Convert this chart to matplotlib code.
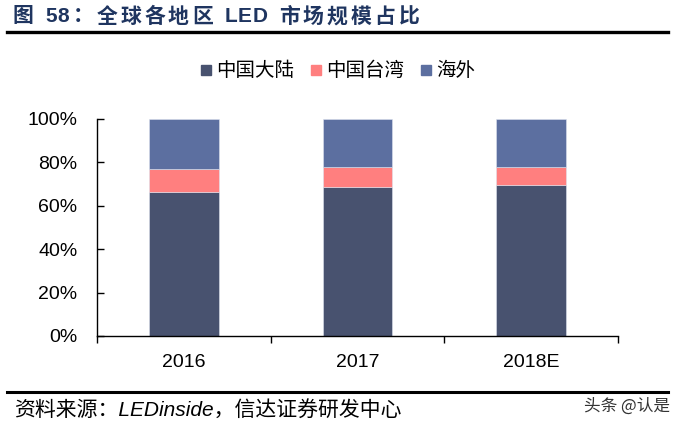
import numpy as np
import matplotlib
matplotlib.use('Agg')
import matplotlib.pyplot as plt
from matplotlib.lines import Line2D

# Data (share of global LED market, %)
years = ['2016', '2017', '2018E']
mainland = [66.5, 68.7, 69.7]
taiwan = [10.3, 9.2, 8.2]
overseas = [23.2, 22.1, 22.1]
series_names = ['中国大陆', '中国台湾', '海外']
colors = ['#48526F', '#FF7F7F', '#5C6FA0']

TITLE = '图 58：全球各地区 LED 市场规模占比'
SOURCE = '资料来源：LEDinside，信达证券研发中心'

plt.rcParams['font.family'] = ['Liberation Sans', 'Noto Sans CJK SC']

W, H = 676, 426
fig = plt.figure(figsize=(W / 100, H / 100), dpi=100)
ax = fig.add_axes([97 / W, 1 - 336 / H, 521 / W, 217 / H])

x = np.arange(len(years))
bottom = np.zeros(len(years))
for vals, name, col in zip([mainland, taiwan, overseas], series_names, colors):
    v = np.array(vals) / 100.0
    ax.bar(x, v, width=0.4, bottom=bottom, color=col, label=name,
           edgecolor='#DDE2EE', linewidth=0.4)
    bottom += v

ax.set_xlim(-0.5, len(years) - 0.5)
ax.set_ylim(0, 1)
yt = np.linspace(0, 1, 6)
ax.set_yticks(yt)
ax.set_yticklabels([f'{int(round(t * 100))}%' for t in yt], fontsize=14)
ax.set_xticks(x)
ax.set_xticklabels(years, fontsize=14)
ax.tick_params(axis='x', length=0, pad=13)
ax.set_xticks(np.arange(len(years) + 1) - 0.5, minor=True)
ax.tick_params(axis='x', which='minor', length=5, direction='out', width=1)
ax.tick_params(axis='y', length=5, direction='in', width=1, pad=14)
for s in ['top', 'right']:
    ax.spines[s].set_visible(False)
for s in ['left', 'bottom']:
    ax.spines[s].set_linewidth(1)

# legend on top
handles = [Line2D([0], [0], marker='s', linestyle='none', markersize=7.5,
                  markerfacecolor=c, markeredgecolor=c) for c in colors]
fig.legend(handles, series_names, loc='center', bbox_to_anchor=(337 / W, 1 - 71 / H),
           ncol=3, frameon=False, handletextpad=0.15,
           columnspacing=0.8, handlelength=0.7,
           prop={'family': ['Noto Sans CJK SC'], 'size': 14})

# title with a little letter spacing between CJK glyphs, drawn glyph by glyph
renderer = fig.canvas.get_renderer()
xpos = 13
for i, ch in enumerate(TITLE):
    t = fig.text(xpos / W, 1 - 17 / H, ch, fontsize=15, fontweight='bold',
                 color='#1F3560', va='center', ha='left',
                 family=['Liberation Sans', 'Noto Sans CJK SC'])
    bb = t.get_window_extent(renderer)
    nxt = TITLE[i + 1] if i + 1 < len(TITLE) else ''
    latin_pair = ch.isascii() and ch.isalnum() and nxt.isascii() and nxt.isalnum()
    xpos += bb.width + (0.6 if latin_pair else 3.0)

fig.add_artist(Line2D([7 / W, 668 / W], [1 - 32 / H] * 2, color='black', lw=2.4))
fig.add_artist(Line2D([7 / W, 668 / W], [1 - 392 / H] * 2, color='black', lw=2.2))

fig.text(14 / W, 1 - 410 / H, SOURCE, fontsize=15, style='italic',
         va='center', ha='left', color='black')
fig.text(670 / W, 1 - 406 / H, '头条 @认是', fontsize=12, va='center', ha='right',
         color='#333333', family=['Noto Sans CJK SC', 'DejaVu Sans'])

fig.savefig('out.png', dpi=100)
